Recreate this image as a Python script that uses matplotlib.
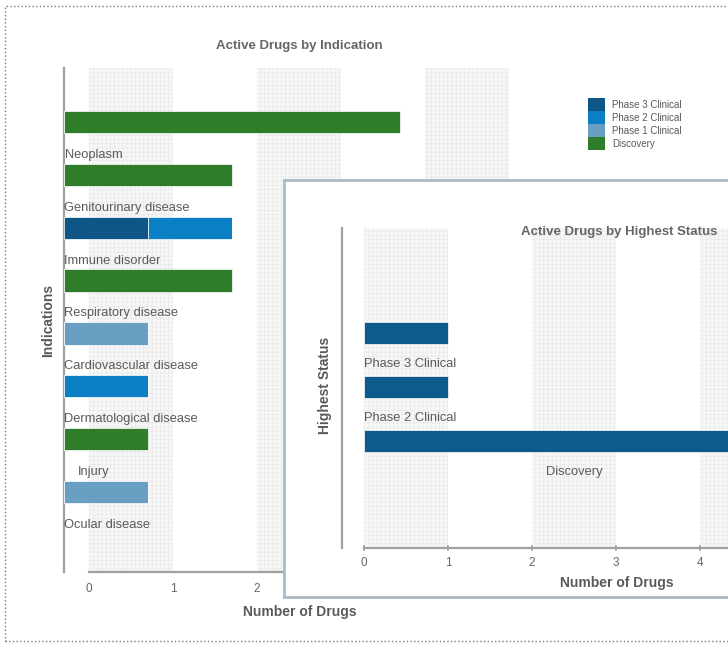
import matplotlib
matplotlib.use("Agg")
import matplotlib.pyplot as plt
import numpy as np
from matplotlib.patches import Rectangle, Patch
from matplotlib.transforms import ScaledTranslation, blended_transform_factory

plt.rcParams['font.family'] = ['Liberation Sans', 'DejaVu Sans']
plt.rcParams['hatch.linewidth'] = 0.5

# ---- data -------------------------------------------------------------
indications = ["Neoplasm", "Genitourinary disease", "Immune disorder",
               "Respiratory disease", "Cardiovascular disease",
               "Dermatological disease", "Injury", "Ocular disease"]
phase3 = [0, 0, 1, 0, 0, 0, 0, 0]
phase2 = [0, 0, 1, 0, 0, 1, 0, 0]
phase1 = [0, 0, 0, 0, 1, 0, 0, 1]
discovery = [4, 2, 0, 2, 0, 0, 1, 0]
series_names = ["Phase 3 Clinical", "Phase 2 Clinical", "Phase 1 Clinical", "Discovery"]

status_labels = ["Phase 3 Clinical", "Phase 2 Clinical", "Discovery"]
status_counts = [1, 1, 5]

main_ticks = [0, 1, 2, 3, 4, 5]
inset_ticks = [0, 1, 2, 3, 4]

# ---- styling ----------------------------------------------------------
colors = ["#0e5686", "#0b7fc3", "#6a9fc4", "#2f7d2b"]
status_color = "#0d5b8c"
band_face, band_hatch = "#f7f7f7", "#e9e9e9"
axis_col = "#a0a0a0"
txt_col = "#5a5a5a"

W, H, DPI = 728, 645, 100
fig = plt.figure(figsize=(W / DPI, H / DPI), dpi=DPI)
fig.patch.set_facecolor("white")


def box(x0, y0, x1, y1):
    """Pixel box (top-left origin) -> figure-fraction rect."""
    return [x0 / W, 1 - y1 / H, (x1 - x0) / W, (y1 - y0) / H]


def fx(x):
    return x / W


def fy(y):
    return 1 - y / H


PX_PER_UNIT = 84.0


def place_labels(ax, labels, ypos, anchors, size):
    """Category labels centred on an anchor value, never starting left of zero."""
    fig.canvas.draw()
    r = fig.canvas.get_renderer()
    zero_px = ax.transData.transform((0, 0))[0]
    for lab, y, a in zip(labels, ypos, anchors):
        t = ax.text(a, y, lab, ha="center", va="center", fontsize=size,
                    color=txt_col, zorder=5)
        if t.get_window_extent(r).x0 < zero_px:
            t.set_ha("left")
            t.set_x(0)


# ---- main chart: drugs by indication ----------------------------------
ax = fig.add_axes(box(64, 68, 540, 572))
ax.set_facecolor("none")
ax.set_xlim(0, (540 - 64) / PX_PER_UNIT)
ax.set_ylim(8.51, -1.02)

band_shift = 25 / PX_PER_UNIT
for s in main_ticks[::2]:
    ax.axvspan(s + band_shift, s + 1 + band_shift, facecolor=band_face,
               edgecolor=band_hatch, hatch="++++", lw=0, zorder=0)

y = np.arange(len(indications))
left = np.zeros(len(indications))
for vals, c in zip([phase3, phase2, phase1, discovery], colors):
    v = np.array(vals, dtype=float)
    ax.barh(y, v, left=left, height=0.42, color=c, edgecolor="white",
            linewidth=0.5, zorder=3)
    left += v

for sp in ("top", "right"):
    ax.spines[sp].set_visible(False)
ax.spines["left"].set_color(axis_col)
ax.spines["left"].set_linewidth(1.6)
ax.spines["bottom"].set_color(axis_col)
ax.spines["bottom"].set_linewidth(1.6)
ax.spines["bottom"].set_bounds(band_shift, ax.get_xlim()[1])
ax.set_xticks([])
ax.set_yticks([])

tick_tr = blended_transform_factory(ax.transData, ax.transAxes) + \
    ScaledTranslation(25 / DPI, -17 / DPI, fig.dpi_scale_trans)
for v in main_ticks:
    ax.text(v, 0, str(v), transform=tick_tr, ha="center", va="center",
            fontsize=8.5, color="#666666")

place_labels(ax, indications, y + 0.62, [30 / PX_PER_UNIT] * len(indications), 9.3)

fig.text(fx(299), fy(46), "Active Drugs by Indication", ha="center", va="center",
         fontsize=9.5, fontweight="bold", color="#666666")
fig.text(fx(300), fy(612), "Number of Drugs", ha="center", va="center",
         fontsize=10, fontweight="bold", color=txt_col)
fig.text(fx(48), fy(320), "Indications", ha="center", va="center", rotation=90,
         fontsize=10, fontweight="bold", color=txt_col)

handles = [Patch(facecolor=c, edgecolor="none") for c in colors]
fig.legend(handles, series_names, loc="upper left",
           bbox_to_anchor=(fx(588), fy(98)), frameon=False, fontsize=7,
           handlelength=1.75, handleheight=1.7, labelspacing=0,
           handletextpad=0.7, borderpad=0, borderaxespad=0,
           labelcolor=txt_col)

# ---- overlay panel: drugs by highest status ---------------------------
pan = fig.add_axes(box(284, 180, 760, 597))
pan.set_facecolor("white")
pan.set_xticks([])
pan.set_yticks([])
for sp in pan.spines.values():
    sp.set_color("#a8bbc6")
    sp.set_linewidth(2)

iax = fig.add_axes(box(342, 228, 760, 548))
iax.set_facecolor("none")
iax.set_xlim(-22 / PX_PER_UNIT, (760 - 364) / PX_PER_UNIT)
iax.set_ylim(3.98, -1.944)

for s in (0, 2, 4):
    iax.axvspan(s, s + 1, facecolor=band_face, edgecolor=band_hatch,
                hatch="++++", lw=0, zorder=0)

ys = np.arange(len(status_labels))
iax.barh(ys, status_counts, height=0.41, color=status_color,
         edgecolor="white", linewidth=0.5, zorder=3)

for sp in ("top", "right"):
    iax.spines[sp].set_visible(False)
iax.spines["left"].set_color(axis_col)
iax.spines["left"].set_linewidth(1.6)
iax.spines["bottom"].set_color(axis_col)
iax.spines["bottom"].set_linewidth(1.6)
iax.spines["bottom"].set_bounds(0, iax.get_xlim()[1])
iax.set_yticks([])
iax.set_xticks(inset_ticks)
iax.tick_params(axis="x", direction="inout", length=5, width=1.2,
                color=axis_col, labelsize=8.5, labelcolor="#666666", pad=4)

place_labels(iax, status_labels, ys + 0.57,
             [c / 2 for c in status_counts], 9.3)

fig.text(fx(619), fy(232), "Active Drugs by Highest Status", ha="center",
         va="center", fontsize=9.5, fontweight="bold", color="#666666")
fig.text(fx(617), fy(583), "Number of Drugs", ha="center", va="center",
         fontsize=10, fontweight="bold", color=txt_col)
fig.text(fx(325), fy(385), "Highest Status", ha="center", va="center",
         rotation=90, fontsize=10, fontweight="bold", color=txt_col)

# ---- dotted page frame ------------------------------------------------
fig.add_artist(Rectangle((fx(5), fy(641)), (760 - 5) / W, (641 - 6) / H,
                         transform=fig.transFigure, fill=False, ls=":",
                         ec="#7a7a7a", lw=1.0))

fig.savefig("out.png", dpi=DPI)
